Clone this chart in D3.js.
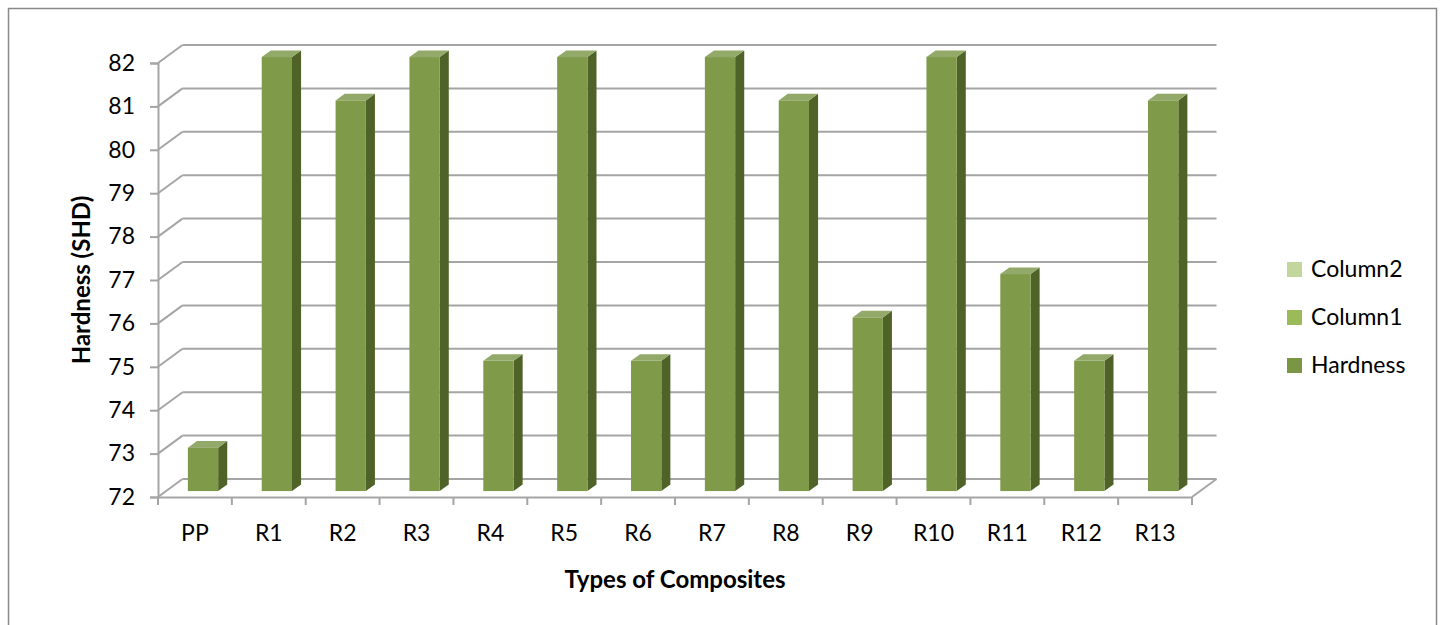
<!DOCTYPE html>
<html>
<head>
<meta charset="utf-8">
<script src="https://cdn.jsdelivr.net/npm/d3@7/dist/d3.min.js"></script>
<style>
  html, body { margin: 0; padding: 0; background: #fff; }
  svg { display: block; }
  text { font-family: Lato, "Open Sans", sans-serif; fill: #000; }
</style>
</head>
<body>
<svg id="chart" width="1440" height="625"></svg>
<script>
// Hardness of each composite
const categories = ["PP", "R1", "R2", "R3", "R4", "R5", "R6", "R7", "R8", "R9", "R10", "R11", "R12", "R13"];
const hardness = [73, 82, 81, 82, 75, 82, 75, 82, 81, 76, 82, 77, 75, 81];
const yTicks = [72, 73, 74, 75, 76, 77, 78, 79, 80, 81, 82];
const legendNames = ["Column2", "Column1", "Hardness"];
const legendColors = ["#c3d69b", "#9bbb59", "#7a9644"];

const svg = d3.select("#chart");

// outer frame
svg.append("rect")
  .attr("x", 8.5).attr("y", 8.5)
  .attr("width", 1428).attr("height", 640)
  .attr("fill", "none").attr("stroke", "#898989").attr("stroke-width", 1.5);

// plot geometry (oblique 3D: depth vector)
const plotLeft = 158, plotRight = 1192, plotTop = 63, plotBottom = 497;
const depth = { dx: 24.5, dy: -18 };

const x = d3.scaleBand().domain(categories).range([plotLeft, plotRight]);
const y = d3.scaleLinear().domain([72, 82]).range([plotBottom, plotTop]);

const grid = svg.append("g").attr("fill", "none")
  .attr("stroke", "#a5a5a5").attr("stroke-width", 2);

// back wall gridlines and side wall diagonals
yTicks.forEach(t => {
  const yy = y(t);
  grid.append("line")
    .attr("x1", plotLeft + depth.dx).attr("y1", yy + depth.dy)
    .attr("x2", plotRight + depth.dx).attr("y2", yy + depth.dy);
  grid.append("line")
    .attr("x1", plotLeft).attr("y1", yy)
    .attr("x2", plotLeft + depth.dx).attr("y2", yy + depth.dy);
});
// floor right edge
grid.append("line")
  .attr("x1", plotRight).attr("y1", plotBottom)
  .attr("x2", plotRight + depth.dx).attr("y2", plotBottom + depth.dy);

// value axis
const yAxis = svg.append("g")
  .attr("transform", `translate(${plotLeft},0)`)
  .call(d3.axisLeft(y).tickValues(yTicks).tickSize(8).tickPadding(15).tickFormat(d3.format("d")));
yAxis.select(".domain").attr("stroke", "#a5a5a5").attr("stroke-width", 2);
yAxis.selectAll(".tick line").attr("stroke", "#a5a5a5").attr("stroke-width", 2);
yAxis.selectAll(".tick text").style("font-size", "23px").attr("font-family", "Lato, 'Open Sans', sans-serif").attr("fill", "#000");

// category axis (labels centred on bands, ticks on band edges)
const xAxis = svg.append("g")
  .attr("transform", `translate(0,${plotBottom})`)
  .call(d3.axisBottom(x).tickSize(0).tickPadding(28));
xAxis.select(".domain").attr("stroke", "#a5a5a5").attr("stroke-width", 2);
xAxis.selectAll(".tick text").style("font-size", "23px").attr("font-family", "Lato, 'Open Sans', sans-serif").attr("fill", "#000");
const edges = categories.map(c => x(c)).concat([x(categories[categories.length - 1]) + x.bandwidth()]);
xAxis.selectAll("line.edge").data(edges).join("line")
  .attr("class", "edge")
  .attr("x1", d => d).attr("x2", d => d)
  .attr("y1", 0).attr("y2", 8)
  .attr("stroke", "#a5a5a5").attr("stroke-width", 2);

// 3D columns
const barW = x.bandwidth() * 0.41;
const f0 = 0.33, f1 = 0.7;           // front and back depth fractions of the bars
const fx = depth.dx * f0, fy = depth.dy * f0;
const bx = depth.dx * f1, by = depth.dy * f1;

const bars = svg.append("g").selectAll("g.bar")
  .data(categories.map((c, i) => ({ c, v: hardness[i] })))
  .join("g").attr("class", "bar");

bars.each(function(d) {
  const g = d3.select(this);
  const x0 = x(d.c) + x.bandwidth() / 2 - barW / 2 + fx;
  const x1 = x0 + barW;
  const yTop = y(d.v) + fy;
  const yBot = y(72) + fy;
  const ddx = bx - fx, ddy = by - fy;
  // side face
  g.append("path")
    .attr("d", `M${x1},${yTop}L${x1 + ddx},${yTop + ddy}L${x1 + ddx},${yBot + ddy}L${x1},${yBot}Z`)
    .attr("fill", "#4f6328");
  // top face
  g.append("path")
    .attr("d", `M${x0},${yTop}L${x0 + ddx},${yTop + ddy}L${x1 + ddx},${yTop + ddy}L${x1},${yTop}Z`)
    .attr("fill", "#93a96a");
  // front face
  g.append("rect")
    .attr("x", x0).attr("y", yTop)
    .attr("width", barW).attr("height", yBot - yTop)
    .attr("fill", "#7f9a48");
});

// axis titles
svg.append("text")
  .attr("transform", `translate(90,${(plotTop + plotBottom) / 2}) rotate(-90)`)
  .attr("text-anchor", "middle")
  .style("font-size", "24px").style("font-weight", "bold")
  .text("Hardness (SHD)");

svg.append("text")
  .attr("x", (plotLeft + plotRight) / 2).attr("y", 588)
  .attr("text-anchor", "middle")
  .style("font-size", "24px").style("font-weight", "bold")
  .text("Types of Composites");

// legend
const legend = svg.append("g").attr("transform", "translate(1287,0)");
const legendY = [269, 317, 365];
legendNames.forEach((name, i) => {
  legend.append("rect")
    .attr("x", 0).attr("y", legendY[i] - 7)
    .attr("width", 15).attr("height", 15)
    .attr("fill", legendColors[i]);
  legend.append("text")
    .attr("x", 24).attr("y", legendY[i] + 8)
    .style("font-size", "23px")
    .text(name);
});
</script>
</body>
</html>
